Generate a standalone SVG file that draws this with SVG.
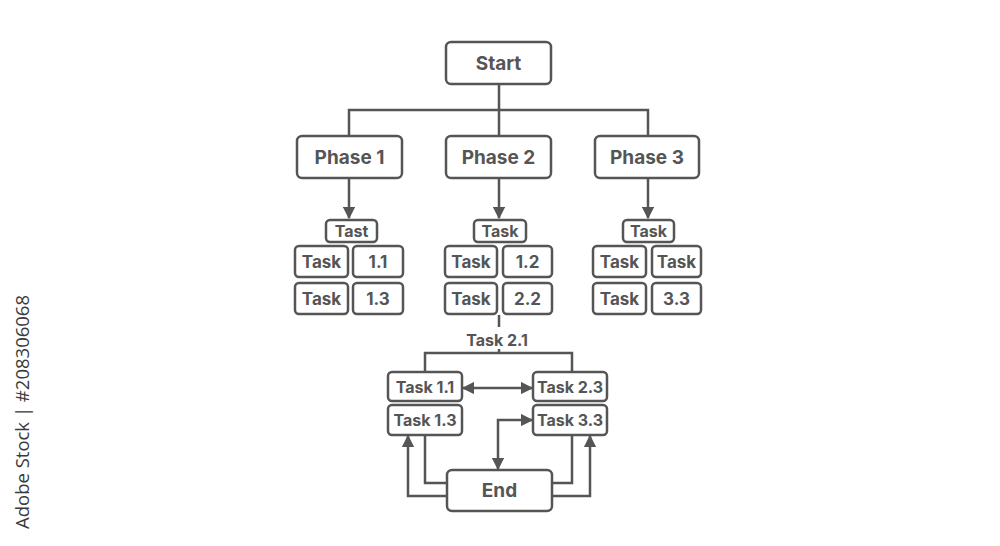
<svg xmlns="http://www.w3.org/2000/svg" width="1000" height="546" viewBox="0 0 1000 546">
<style>
.b{fill:#fff;stroke:#555;stroke-width:2.5}
.t{font-family:Inter,"Liberation Sans",sans-serif;font-weight:700;fill:#555;text-anchor:middle}
.l{font-size:19px}.m{font-size:17px}.h{font-size:16px}.s{font-size:16px}
.c{fill:none;stroke:#555;stroke-width:2.5}
</style>
<defs>
<marker id="a" viewBox="0 0 10 10" refX="9" refY="5" markerWidth="5" markerHeight="5" markerUnits="strokeWidth" orient="auto-start-reverse"><path d="M0 0L10 5L0 10z" fill="#555"/></marker>
</defs>
<rect width="1000" height="546" fill="#fff"/>
<text transform="translate(29 412) rotate(-90)" style="font-family:'Open Sans','Liberation Sans',sans-serif;font-size:18.5px;fill:#3a3a3a;text-anchor:middle">Adobe Stock | #208306068</text>
<g id="connectors">
<path class="c" d="M499 84V110M349 136V110H648V136M499 110V136"/>
<path class="c" d="M349 178V218" marker-end="url(#a)"/>
<path class="c" d="M499 178V218" marker-end="url(#a)"/>
<path class="c" d="M648 178V218" marker-end="url(#a)"/>
<path class="c" d="M499 315V327M499 349V353M425 372V353H572V372"/>
<path class="c" d="M463 388H532" marker-start="url(#a)" marker-end="url(#a)"/>
<path class="c" d="M498 469V420H532" marker-start="url(#a)" marker-end="url(#a)"/>
<path class="c" d="M447 496H408V436" marker-end="url(#a)"/>
<path class="c" d="M552 496H590V436" marker-end="url(#a)"/>
<path class="c" d="M425 435V483H447M552 483H572V435"/>
</g>
<g id="start"><rect class="b" x="446" y="42" width="105" height="42" rx="5"/><text class="t l" x="498.5" y="70">Start</text></g>
<g id="phase1"><rect class="b" x="297" y="136" width="105" height="42" rx="5"/><text class="t l" x="349.5" y="164">Phase 1</text></g>
<g id="phase2"><rect class="b" x="446" y="136" width="105" height="42" rx="5"/><text class="t l" x="498.5" y="164">Phase 2</text></g>
<g id="phase3"><rect class="b" x="595" y="136" width="104" height="42" rx="5"/><text class="t l" x="647" y="164">Phase 3</text></g>
<g id="p1-head"><rect class="b" x="326" y="220" width="51" height="22" rx="4"/><text class="t h" x="351.5" y="237">Tast</text></g>
<g id="p2-head"><rect class="b" x="474" y="220" width="52" height="22" rx="4"/><text class="t h" x="500" y="237">Task</text></g>
<g id="p3-head"><rect class="b" x="623" y="220" width="51" height="22" rx="4"/><text class="t h" x="648.5" y="237">Task</text></g>
<g id="p1-r1a"><rect class="b" x="295" y="246" width="53" height="31" rx="4"/><text class="t m" x="321.5" y="268">Task</text></g>
<g id="p1-r1b"><rect class="b" x="353" y="246" width="50" height="31" rx="4"/><text class="t m" x="378" y="268">1.1</text></g>
<g id="p1-r2a"><rect class="b" x="295" y="283" width="53" height="31" rx="4"/><text class="t m" x="321.5" y="305">Task</text></g>
<g id="p1-r2b"><rect class="b" x="353" y="283" width="50" height="31" rx="4"/><text class="t m" x="378" y="305">1.3</text></g>
<g id="p2-r1a"><rect class="b" x="445" y="246" width="52" height="31" rx="4"/><text class="t m" x="471" y="268">Task</text></g>
<g id="p2-r1b"><rect class="b" x="503" y="246" width="49" height="31" rx="4"/><text class="t m" x="527.5" y="268">1.2</text></g>
<g id="p2-r2a"><rect class="b" x="445" y="283" width="52" height="31" rx="4"/><text class="t m" x="471" y="305">Task</text></g>
<g id="p2-r2b"><rect class="b" x="503" y="283" width="49" height="31" rx="4"/><text class="t m" x="527.5" y="305">2.2</text></g>
<g id="p3-r1a"><rect class="b" x="593" y="246" width="53" height="31" rx="4"/><text class="t m" x="619.5" y="268">Task</text></g>
<g id="p3-r1b"><rect class="b" x="652" y="246" width="49" height="31" rx="4"/><text class="t m" x="676.5" y="268">Task</text></g>
<g id="p3-r2a"><rect class="b" x="593" y="283" width="53" height="31" rx="4"/><text class="t m" x="619.5" y="305">Task</text></g>
<g id="p3-r2b"><rect class="b" x="652" y="283" width="49" height="31" rx="4"/><text class="t m" x="676.5" y="305">3.3</text></g>
<g id="task21"><text class="t s" x="497" y="346">Task 2.1</text></g>
<g id="task11"><rect class="b" x="388" y="372" width="74" height="29" rx="4"/><text class="t s" x="425" y="392.5">Task 1.1</text></g>
<g id="task13"><rect class="b" x="388" y="405" width="74" height="30" rx="4"/><text class="t s" x="425" y="426">Task 1.3</text></g>
<g id="task23"><rect class="b" x="533" y="372" width="74" height="29" rx="4"/><text class="t s" x="570" y="392.5">Task 2.3</text></g>
<g id="task33"><rect class="b" x="533" y="405" width="74" height="30" rx="4"/><text class="t s" x="570" y="426">Task 3.3</text></g>
<g id="end"><rect class="b" x="447" y="470" width="105" height="41" rx="5"/><text class="t l" x="499.5" y="497">End</text></g>
</svg>
